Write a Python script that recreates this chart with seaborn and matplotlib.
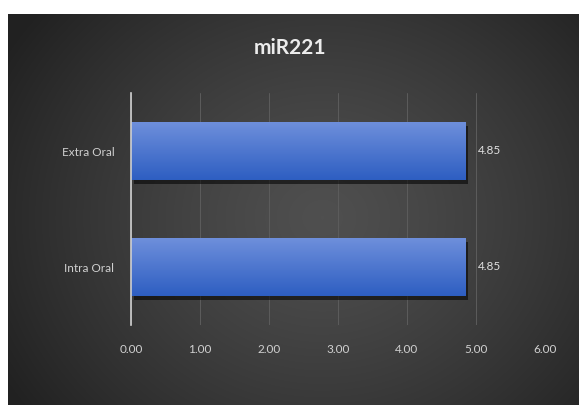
import numpy as np
import matplotlib
matplotlib.use('Agg')
import matplotlib.pyplot as plt
import seaborn as sns
import pandas as pd
from matplotlib import patheffects as pe
from matplotlib.ticker import FormatStrFormatter

categories = ['Extra Oral', 'Intra Oral']
values = [4.85, 4.85]
xticks = [0, 1, 2, 3, 4, 5, 6]
title = 'miR221'

sns.set_theme(style='dark')
plt.rcParams['font.family'] = ['Lato', 'DejaVu Sans']

W, H = 579, 405
fig = plt.figure(figsize=(W / 100, H / 100), dpi=100, facecolor='white')

# background panel with radial gradient
bg = fig.add_axes([8 / W, 0, 1 - 8 / W, (H - 14) / H])
bg.set_zorder(0)
h, w = 391, 571
yy, xx = np.mgrid[0:h, 0:w]
cx, cy = w * 0.55, h * 0.52
r = np.sqrt(((xx - cx) / (w * 0.62)) ** 2 + ((yy - cy) / (h * 0.8)) ** 2)
v = np.clip(0.31 - 0.17 * r ** 1.3, 0.13, 1)
img = np.dstack([v, v, v])
bg.imshow(img, aspect='auto', extent=(0, 1, 0, 1))
bg.set_axis_off()

df = pd.DataFrame({'category': categories, 'value': values})

ax = fig.add_axes([131 / W, 1 - 325 / H, (545 - 131) / W, (325 - 93) / H])
ax.set_zorder(1)
ax.patch.set_alpha(0)
sns.barplot(data=df, x='value', y='category', orient='h', width=0.5,
            color='#4472c4', ax=ax, saturation=1)

ax.set_xlim(0, 6)
ylim = ax.get_ylim()

# gradient fill for bars
grad_top = np.array([0.43, 0.56, 0.86])
grad_bot = np.array([0.18, 0.37, 0.76])
t = np.linspace(0, 1, 64)[:, None]
grad = (grad_top[None, :] * (1 - t) + grad_bot[None, :] * t)[:, None, :]
for p in ax.patches:
    p.set_path_effects([pe.SimplePatchShadow(offset=(2, -3), shadow_rgbFace='black', alpha=0.55),
                        pe.Normal()])
    p.set_edgecolor('none')
    x0, y0 = p.get_x(), p.get_y()
    pw, ph = p.get_width(), p.get_height()
    im = ax.imshow(grad, aspect='auto', extent=(x0, x0 + pw, y0 + ph, y0),
                   origin='upper', zorder=p.get_zorder() + 0.1)
    im.set_clip_path(p)
ax.set_xlim(0, 6)
ax.set_ylim(ylim)
ax.set_aspect('auto')

ax.bar_label(ax.containers[0], fmt='%.2f', padding=9, color='#e0e0e0', fontsize=8.5)

ax.set_xticks(xticks)
ax.xaxis.set_major_formatter(FormatStrFormatter('%.2f'))
ax.grid(False)
ax.xaxis.grid(True, color='#5c5c5c', lw=0.7)
ax.set_axisbelow(True)
for s in ['top', 'right', 'bottom']:
    ax.spines[s].set_visible(False)
ax.spines['left'].set_color('#d0d0d0')
ax.spines['left'].set_linewidth(1.2)
ax.tick_params(axis='both', length=0, colors='#d0d0d0', labelsize=8.5)
ax.tick_params(axis='x', pad=14)
ax.tick_params(axis='y', pad=12)
ax.set_xlabel('')
ax.set_ylabel('')

fig.text(290 / W, 1 - 48 / H, title, ha='center', va='center', fontsize=15,
         fontweight='bold', color='#ececec')

fig.savefig('out.png', dpi=100, facecolor='white')
